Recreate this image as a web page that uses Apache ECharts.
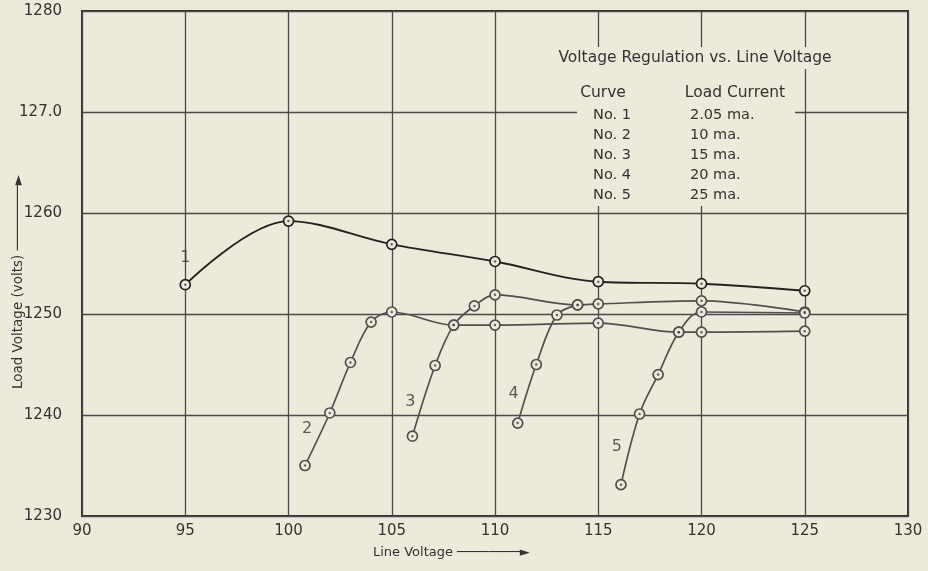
<!DOCTYPE html>
<html>
<head>
<meta charset="utf-8">
<title>Voltage Regulation vs. Line Voltage</title>
<script src="https://cdn.jsdelivr.net/npm/echarts@6/dist/echarts.min.js"></script>
<style>
    html, body {
        margin: 0;
        padding: 0;
        background: #eceada;
    }
    #chart {
        width: 928px;
        height: 571px;
    }
</style>
</head>
<body>
<div id="chart"></div>
<script>
// curves: [line voltage, load voltage]
const curve1 = [[95, 1252.9], [100, 1259.2], [105, 1256.9], [110, 1255.2], [115, 1253.2], [120, 1253.0], [125, 1252.3]]
const curve2 = [[100.8, 1235.0], [102, 1240.2], [103, 1245.2], [104, 1249.2], [105, 1250.2], [108, 1248.9], [110, 1248.9], [115, 1249.1], [118.9, 1248.2], [120, 1248.2], [125, 1248.3]]
const curve3 = [[106, 1237.9], [107.1, 1244.9], [108, 1248.9], [109, 1250.8], [110, 1251.9], [114, 1250.9], [115, 1251.0], [120, 1251.3], [125, 1250.2]]
const curve4 = [[111.1, 1239.2], [112, 1245.0], [113, 1249.9], [114, 1250.9]]
const curve5 = [[116.1, 1233.1], [117, 1240.1], [117.9, 1244.0], [118.9, 1248.2], [120, 1250.2], [125, 1250.1]]

// curve number tags written next to each curve
const curveTags = [[95.0, 1255.6, '1'], [100.9, 1238.6, '2'], [105.9, 1241.3, '3'], [110.9, 1242.1, '4'], [115.9, 1236.8, '5']]

const yTickLabels = ['1230', '1240', '1250', '1260', '127.0', '1280']
const xTickLabels = ['90', '95', '100', '105', '110', '115', '120', '125', '130']

// table in the upper right
const tableTitle = 'Voltage Regulation vs. Line Voltage'
const curveNames = ['No. 1', 'No. 2', 'No. 3', 'No. 4', 'No. 5']
const loadCurrents = ['2.05 ma.', '10 ma.', '15 ma.', '20 ma.', '25 ma.']

const paper = '#eceada'
const ink = '#333333'
const font = '"DejaVu Sans", sans-serif'

let chart = echarts.init(document.getElementById('chart'))

function lineSeries(name, data, color, width) {
    return {
        name: name,
        type: 'line',
        data: data,
        smooth: 0.35,
        symbol: 'circle',
        symbolSize: 10,
        lineStyle: {color: color, width: width},
        itemStyle: {color: paper, borderColor: color, borderWidth: 1.7},
        z: 3
    }
}

let allPoints = [].concat(curve1, curve2, curve3, curve4, curve5)

let tableGraphics = [
    {
        type: 'rect',
        shape: {x: 577, y: 66, width: 218, height: 140},
        style: {fill: paper},
        z: 1
    },
    {
        type: 'text',
        x: 695, y: 58,
        style: {
            text: tableTitle,
            font: '15.5px ' + font,
            fill: ink,
            align: 'center',
            verticalAlign: 'middle',
            backgroundColor: paper,
            padding: [3, 4]
        },
        z: 2
    },
    {
        type: 'text', x: 603, y: 93,
        style: {text: 'Curve', font: '15.5px ' + font, fill: ink, align: 'center', verticalAlign: 'middle'},
        z: 2
    },
    {
        type: 'text', x: 735, y: 93,
        style: {text: 'Load Current', font: '15.5px ' + font, fill: ink, align: 'center', verticalAlign: 'middle'},
        z: 2
    }
]
for (let i = 0; i < curveNames.length; i++) {
    tableGraphics.push({
        type: 'text', x: 612, y: 115 + i * 20,
        style: {text: curveNames[i], font: '14.5px ' + font, fill: ink, align: 'center', verticalAlign: 'middle'},
        z: 2
    })
    tableGraphics.push({
        type: 'text', x: 690, y: 115 + i * 20,
        style: {text: loadCurrents[i], font: '14.5px ' + font, fill: ink, align: 'left', verticalAlign: 'middle'},
        z: 2
    })
}
// axis titles with their arrows
tableGraphics.push({
    type: 'text', x: 373, y: 553,
    style: {text: 'Line Voltage ────────►', font: '13px ' + font, fill: ink, align: 'left', verticalAlign: 'middle'},
    z: 2
})
tableGraphics.push({
    type: 'text', x: 18, y: 282,
    rotation: Math.PI / 2,
    style: {text: 'Load Voltage (volts) ────────►', font: '13.5px ' + font, fill: ink, align: 'center', verticalAlign: 'middle'},
    z: 2
})

chart.setOption({
    backgroundColor: paper,
    animation: false,
    textStyle: {fontFamily: font},
    grid: {
        left: 82,
        right: 20,
        top: 11,
        bottom: 55,
        show: true,
        borderColor: '#2e2e2e',
        borderWidth: 2,
        backgroundColor: 'transparent'
    },
    xAxis: {
        type: 'value',
        min: 90,
        max: 130,
        interval: 5,
        axisLine: {show: false},
        axisTick: {show: false},
        splitLine: {show: true, lineStyle: {color: '#4a4a4a', width: 1.3}},
        axisLabel: {
            color: ink,
            fontSize: 15,
            margin: 8,
            formatter: function (v) {
                return xTickLabels[Math.round((v - 90) / 5)]
            }
        }
    },
    yAxis: {
        type: 'value',
        min: 1230,
        max: 1280,
        interval: 10,
        axisLine: {show: false},
        axisTick: {show: false},
        splitLine: {show: true, lineStyle: {color: '#4a4a4a', width: 1.3}},
        axisLabel: {
            color: ink,
            fontSize: 15,
            margin: 20,
            formatter: function (v) {
                return yTickLabels[Math.round((v - 1230) / 10)]
            }
        }
    },
    graphic: tableGraphics,
    series: [
        lineSeries('1', curve1, '#222222', 1.9),
        lineSeries('2', curve2, '#505050', 1.7),
        lineSeries('3', curve3, '#505050', 1.7),
        lineSeries('4', curve4, '#505050', 1.7),
        lineSeries('5', curve5, '#505050', 1.7),
        {
            // centre dots inside the plotted circles
            type: 'scatter',
            data: allPoints,
            symbolSize: 2.5,
            itemStyle: {color: '#444'},
            z: 4,
            silent: true
        },
        {
            type: 'scatter',
            data: curveTags,
            symbolSize: 0,
            silent: true,
            label: {
                show: true,
                position: 'inside',
                color: '#333',
                fontSize: 16,
                formatter: function (p) {
                    return p.value[2]
                }
            },
            z: 4
        }
    ]
})
</script>
</body>
</html>
